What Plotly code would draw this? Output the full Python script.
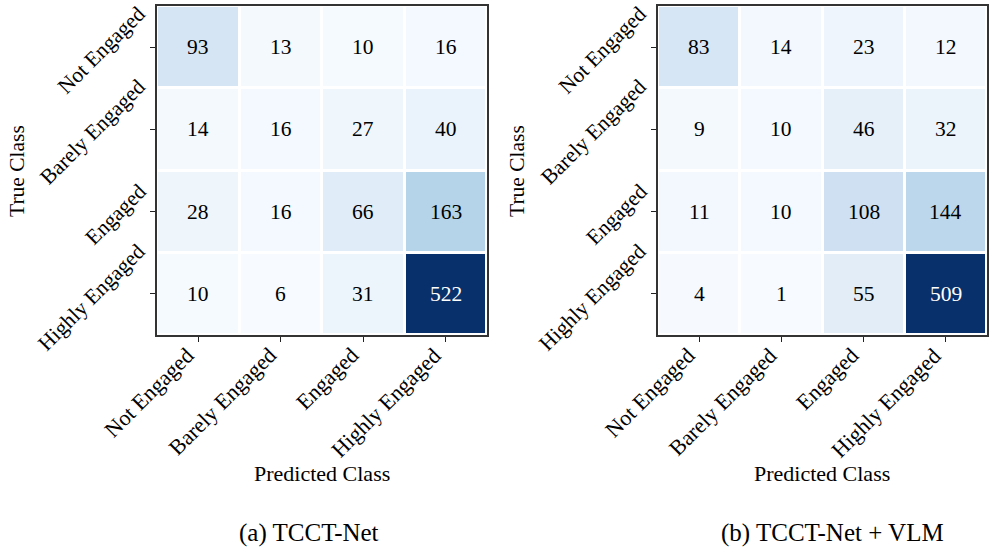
import plotly.graph_objects as go

classes = ["Not Engaged", "Barely Engaged", "Engaged", "Highly Engaged"]
cm_a = [[93, 13, 10, 16],
        [14, 16, 27, 40],
        [28, 16, 66, 163],
        [10, 6, 31, 522]]
cm_b = [[83, 14, 23, 12],
        [9, 10, 46, 32],
        [11, 10, 108, 144],
        [4, 1, 55, 509]]
captions = ["(a) TCCT-Net", "(b) TCCT-Net + VLM"]

blues = [[0.0, "#f7fbff"], [0.125, "#deebf7"], [0.25, "#c6dbef"], [0.375, "#9ecae1"],
         [0.5, "#6baed6"], [0.625, "#4292c6"], [0.75, "#2171b5"], [0.875, "#08519c"],
         [1.0, "#08306b"]]

FONT = "Liberation Serif"
W, H = 996, 553


def px(x):
    return min(1.0, max(0.0, x / W))


def py(y):
    return min(1.0, max(0.0, 1 - y / H))


left_px = [157, 658]
right_px = [487, 987]
top_px, bot_px = 6, 335
caption_cx = [309, 832]
title_cx = [322, 822]
true_cx = [17, 517]

fig = go.Figure()
for i, cm in enumerate([cm_a, cm_b]):
    xa = "x" if i == 0 else "x2"
    ya = "y" if i == 0 else "y2"
    dom = (px(left_px[i]), px(right_px[i]))
    zmax = max(max(r) for r in cm)
    zmin = min(min(r) for r in cm)
    fig.add_trace(go.Heatmap(
        z=cm, x=list(range(4)), y=list(range(4)), xaxis=xa, yaxis=ya,
        colorscale=blues, zmin=zmin, zmax=zmax, showscale=False,
        xgap=3, ygap=3, hoverinfo="skip"))
    for r in range(4):
        for c in range(4):
            v = cm[r][c]
            fig.add_annotation(x=c, y=r, xref=xa, yref=ya, text=str(v), showarrow=False,
                               xanchor="center", yanchor="middle",
                               font=dict(family=FONT, size=21.5,
                                         color="white" if v > 0.5 * zmax else "black"))
    for k, name in enumerate(classes):
        fig.add_annotation(x=px(left_px[i] - 10), y=k, xref="paper", yref=ya, text=name,
                           textangle=-45, xanchor="right", yanchor="middle", showarrow=False,
                           xshift=6, yshift=-3, font=dict(family=FONT, size=21.5, color="black"))
        fig.add_annotation(x=k, y=py(bot_px + 9), xref=xa, yref="paper", text=name,
                           textangle=-45, xanchor="right", yanchor="top", showarrow=False,
                           xshift=3, yshift=4, font=dict(family=FONT, size=22, color="black"))
    common = dict(tickvals=list(range(4)), ticktext=["", "", "", ""], ticks="outside",
                  ticklen=5, tickwidth=1.3, tickcolor="#222", showgrid=False, zeroline=False,
                  showline=True, linecolor="#333", linewidth=1.5, mirror=True, automargin=False)
    fig.layout["xaxis" if i == 0 else "xaxis2"] = dict(domain=dom, range=[-0.5, 3.5], anchor=ya, **common)
    fig.layout["yaxis" if i == 0 else "yaxis2"] = dict(domain=(py(bot_px), py(top_px)),
                                                       range=[3.5, -0.5], anchor=xa, **common)
    fig.add_annotation(x=px(title_cx[i]), y=py(473), xref="paper", yref="paper", text="Predicted Class",
                       xanchor="center", yanchor="middle", showarrow=False,
                       font=dict(family=FONT, size=22, color="black"))
    fig.add_annotation(x=px(caption_cx[i]), y=py(533), xref="paper", yref="paper", text=captions[i],
                       xanchor="center", yanchor="middle", showarrow=False,
                       font=dict(family=FONT, size=25, color="black"))
    fig.add_annotation(x=px(true_cx[i]), y=py(171), xref="paper", yref="paper",
                       text="True Class", textangle=-90, xanchor="center", yanchor="middle",
                       showarrow=False, font=dict(family=FONT, size=21.5, color="black"))

fig.update_layout(width=W, height=H, margin=dict(l=0, r=0, t=0, b=0),
                  paper_bgcolor="white", plot_bgcolor="white")
fig.write_html("out.html", config={"displayModeBar": False},
               post_script="document.body.style.margin='0px';")
